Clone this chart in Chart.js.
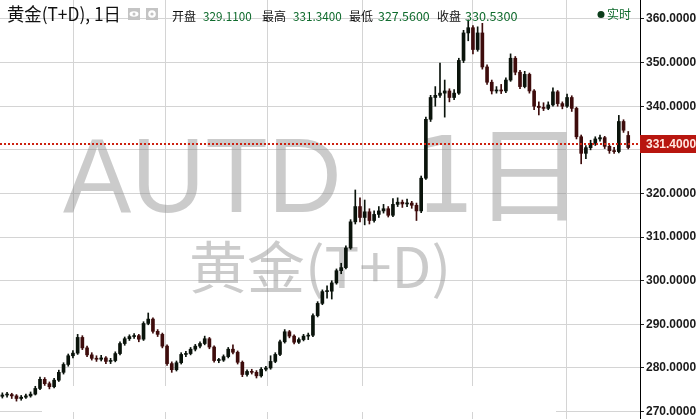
<!DOCTYPE html>
<html><head><meta charset="utf-8">
<script src="https://cdn.jsdelivr.net/npm/chart.js@4.4.0/dist/chart.umd.min.js"></script>
<style>html,body{margin:0;padding:0;background:#fff;overflow:hidden}#wrap{width:696px;height:419px}</style>
</head><body><div id="wrap"><canvas id="c" width="696" height="419"></canvas></div>
<script>
const opens = [273.5,273.8,273.9,273.6,273.0,273.3,273.6,274.0,275.3,277.4,276.4,275.7,277.2,279.0,280.8,282.8,283.4,287.0,284.6,283.0,
282.2,282.0,282.3,281.5,281.7,283.3,285.6,286.7,287.2,287.4,286.6,290.2,291.2,288.4,287.7,285.0,281.0,279.6,281.2,283.1,
283.3,284.3,285.0,285.6,286.7,284.8,281.7,281.8,282.6,284.3,283.6,281.3,278.5,279.2,279.0,278.2,279.7,280.0,281.5,283.1,
286.0,288.3,287.3,285.9,286.5,287.3,287.5,292.0,294.8,297.5,297.6,299.5,302.3,303.0,307.5,313.5,317.0,314.5,315.8,313.8,
315.2,316.0,316.5,315.0,317.5,318.0,317.6,317.8,317.3,316.0,323.5,337.0,342.0,342.5,343.0,343.5,342.0,343.0,350.5,356.8,
358.0,353.0,356.8,349.0,345.5,343.5,343.7,343.5,346.0,351.0,347.8,344.5,347.3,343.5,340.0,339.7,339.5,340.3,343.3,340.6,
340.0,342.0,339.5,333.0,329.2,330.5,331.5,332.5,332.8,330.8,329.8,329.6,336.5,333.3];
const highs = [274.3,274.4,274.2,273.9,273.7,274.0,274.5,275.8,277.9,277.8,276.8,277.6,279.5,281.2,283.2,284.0,287.7,287.4,285.0,283.5,
282.8,282.9,282.6,282.2,283.7,286.0,287.1,287.6,287.9,287.7,290.6,292.6,291.5,288.8,288.0,285.3,281.4,281.6,283.5,283.8,
284.7,285.4,286.0,287.3,287.0,285.1,282.2,283.0,284.7,285.3,283.9,281.6,279.6,279.7,279.4,280.1,280.4,282.8,283.5,286.4,
288.8,288.6,287.6,286.9,287.7,288.0,292.4,295.2,297.9,298.8,300.0,302.7,304.0,308.0,314.0,320.8,319.0,318.5,316.5,316.0,
317.0,317.5,317.0,318.8,319.0,318.5,318.7,318.2,317.8,324.0,337.5,342.5,344.5,349.9,346.0,344.0,343.8,351.0,357.4,359.8,
358.5,358.2,359.0,349.5,346.0,344.5,345.0,346.5,352.0,351.4,348.2,348.0,347.6,343.8,341.0,340.8,341.0,344.2,343.6,341.0,
342.8,342.4,339.8,333.4,331.0,332.2,333.0,333.4,333.1,331.2,330.6,337.9,336.9,334.2];
const lows = [273.1,273.3,273.0,272.4,272.6,273.0,273.3,273.8,275.0,276.0,275.2,275.4,276.9,278.6,280.4,282.3,283.1,284.2,282.6,281.8,
281.5,281.6,281.0,281.0,281.4,283.0,285.2,286.3,286.8,286.0,286.3,289.9,288.0,287.2,284.6,280.6,279.0,279.3,280.9,282.6,
283.0,283.9,284.6,285.3,284.4,281.3,281.2,281.5,282.3,283.2,280.9,278.0,278.1,278.6,277.7,277.9,279.3,279.7,281.2,282.8,
285.7,286.9,285.5,285.6,286.2,286.5,287.2,291.7,294.5,296.0,295.8,299.2,301.6,302.7,307.2,313.0,313.5,312.8,313.0,313.4,
314.5,315.5,314.6,314.7,317.0,316.8,317.0,316.6,313.8,315.6,323.2,336.5,340.0,342.0,337.5,341.0,341.5,342.7,350.0,355.0,
352.0,352.6,348.5,345.0,342.8,343.0,342.9,343.1,345.7,347.2,344.0,344.2,343.0,339.2,338.0,339.0,339.2,340.0,340.0,339.4,
339.7,338.8,332.5,326.8,328.0,330.0,331.0,332.0,330.3,329.2,329.2,329.3,334.0,330.2];
const closes = [273.8,273.9,273.6,273.0,273.3,273.6,274.0,275.3,277.4,276.4,275.7,277.2,279.0,280.8,282.8,283.4,287.0,284.6,283.0,282.2,
282.0,282.3,281.5,281.7,283.3,285.6,286.7,287.2,287.4,286.6,290.2,291.2,288.4,287.7,285.0,281.0,279.6,281.2,283.1,283.3,
284.3,285.0,285.6,286.7,284.8,281.7,281.8,282.6,284.3,283.6,281.3,278.5,279.2,279.0,278.2,279.7,280.0,281.5,283.1,286.0,
288.3,287.3,285.9,286.5,287.3,287.5,292.0,294.8,297.5,297.6,299.5,302.3,303.0,307.5,313.5,317.0,314.5,315.8,313.8,315.2,
316.0,316.5,315.0,317.5,318.0,317.6,317.8,317.3,316.0,323.5,337.0,342.0,342.5,343.0,343.5,342.0,343.0,350.5,356.8,358.0,
353.0,356.8,349.0,345.5,343.5,343.7,343.5,346.0,351.0,347.8,344.5,347.3,343.5,340.0,339.7,339.5,340.3,343.3,340.6,340.0,
342.0,339.5,333.0,329.2,330.5,331.5,332.5,332.8,330.8,329.8,329.6,336.5,334.5,330.53];
const yTicks = [270,280,290,300,310,320,330,340,350,360];
const monthLines = [15, 34.6, 56.2, 76.4, 99.8, 119.8];
const lastPrice = 331.4;
const infoLabels = ['开盘','最高','最低','收盘'];
const infoValues = ['329.1100','331.3400','327.5600','330.5300'];
const titleText = '黄金(T+D), 1日';
const liveText = '实时';

const UP = '#0a130b', DOWN = '#3e0c0c';
const n = opens.length;
const labels = Array.from({length: n + 2}, (_, i) => i);
const colors = closes.map((c, i) => c >= opens[i] ? UP : DOWN);
const wickData = lows.map((l, i) => [l, highs[i]]);
const bodyData = opens.map((o, i) => [Math.min(o, closes[i]), Math.max(o, closes[i])]);

function fitText(ctx, text, x0, x1, base, font, color) {
  ctx.save();
  ctx.font = font; ctx.fillStyle = color; ctx.textAlign = 'left'; ctx.textBaseline = 'alphabetic';
  const m = ctx.measureText(text);
  const w = m.actualBoundingBoxLeft + m.actualBoundingBoxRight;
  const sx = (x1 - x0) / w;
  ctx.translate(x0, base); ctx.scale(sx, 1);
  ctx.fillText(text, m.actualBoundingBoxLeft, 0);
  ctx.restore();
}

const decor = {
  id: 'decor',
  beforeDraw(chart) {
    const ctx = chart.ctx;
    ctx.save(); ctx.fillStyle = '#fff'; ctx.fillRect(0, 0, chart.width, chart.height); ctx.restore();
  },
  beforeDatasetsDraw(chart) {
    const ctx = chart.ctx, a = chart.chartArea, xs = chart.scales.x;
    ctx.save();
    ctx.strokeStyle = '#d4d4d4'; ctx.lineWidth = 1;
    monthLines.forEach(v => {
      const x = Math.round(xs.getPixelForValue(v)) + 0.5;
      ctx.beginPath(); ctx.moveTo(x, a.top); ctx.lineTo(x, a.bottom); ctx.stroke();
    });
    ctx.fillStyle = '#fff';
    ctx.fillRect(42, 386, 514, 26);
    ctx.restore();
    const wm = 'rgba(140,140,140,0.45)';
    fitText(ctx, 'AUTD', 63, 337, 212, '105px "Liberation Sans"', wm);
    fitText(ctx, '1', 425, 467, 212, '105px "DejaVu Sans"', wm);
    fitText(ctx, '日', 492, 567, 213, '105px "Noto Sans CJK SC"', wm);
    fitText(ctx, '黄金(T+D)', 192, 446, 288, '56px "Noto Sans CJK SC"', wm);
  },
  afterDraw(chart) {
    const ctx = chart.ctx, a = chart.chartArea, ys = chart.scales.y;
    const y = Math.round(ys.getPixelForValue(lastPrice));
    ctx.save();
    ctx.strokeStyle = '#cc2211'; ctx.lineWidth = 2; ctx.setLineDash([2, 2]);
    ctx.beginPath(); ctx.moveTo(a.left, y); ctx.lineTo(a.right, y); ctx.stroke();
    ctx.setLineDash([]);
    ctx.fillStyle = '#b8160f';
    ctx.fillRect(a.right, y - 9, chart.width - a.right, 18);
    ctx.fillStyle = '#ffe8e0';
    ctx.font = 'bold 12px "Liberation Sans"'; ctx.textBaseline = 'middle'; ctx.textAlign = 'left';
    ctx.fillText(lastPrice.toFixed(4), a.right + 6, y + 1);
    ctx.restore();
    // header
    fitText(ctx, titleText, 7, 118, 21, '18px "Noto Sans CJK SC"', '#111');
    ctx.save();
    [[128], [146]].forEach(([x]) => {
      ctx.fillStyle = '#c4c4c4'; ctx.fillRect(x, 8, 12, 12);
    });
    ctx.fillStyle = '#fff';
    ctx.beginPath(); ctx.ellipse(134, 14, 4.5, 2.8, 0, 0, Math.PI * 2); ctx.fill();
    ctx.fillStyle = '#c4c4c4'; ctx.beginPath(); ctx.arc(134, 14, 1.5, 0, Math.PI * 2); ctx.fill();
    ctx.fillStyle = '#fff'; ctx.beginPath(); ctx.arc(152, 14, 3.8, 0, Math.PI * 2); ctx.fill();
    ctx.fillStyle = '#c4c4c4'; ctx.beginPath(); ctx.arc(152, 14, 1.6, 0, Math.PI * 2); ctx.fill();
    ctx.restore();
    const lx = [172, 262, 349, 437];
    const vx = [[203, 252], [293, 342], [378, 430], [465, 518]];
    infoLabels.forEach((t, i) => {
      fitText(ctx, t, lx[i], lx[i] + 24, 21, '12px "Noto Sans CJK SC"', '#111');
      fitText(ctx, infoValues[i], vx[i][0], vx[i][1], 21, '12px "Noto Sans CJK SC"', '#0e6a2c');
    });
    ctx.save();
    ctx.fillStyle = '#0b3d1a'; ctx.beginPath(); ctx.arc(601, 14.5, 3.5, 0, Math.PI * 2); ctx.fill();
    ctx.restore();
    fitText(ctx, liveText, 607, 631, 19, '12px "Noto Sans CJK SC"', '#0e6a2c');
  }
};

new Chart(document.getElementById('c'), {
  type: 'bar',
  data: {
    labels,
    datasets: [
      { data: wickData, backgroundColor: colors, barThickness: 1, grouped: false, order: 2 },
      { data: bodyData, backgroundColor: colors, barThickness: 3, minBarLength: 1, grouped: false, order: 1 }
    ]
  },
  options: {
    responsive: false, animation: false, events: [],
    layout: { padding: 0 },
    plugins: { legend: { display: false }, tooltip: { enabled: false } },
    scales: {
      x: { display: false, offset: true },
      y: {
        position: 'right', min: 268.3, max: 364.35,
        afterBuildTicks: s => { s.ticks = yTicks.map(v => ({ value: v })); },
        afterFit: s => { s.width = 56; s.paddingTop = 0; s.paddingBottom = 0; },
        ticks: { callback: v => Number(v).toFixed(4), font: { family: 'Liberation Sans', size: 12, weight: 'bold' }, color: '#1a1a1a', padding: 2 },
        grid: { color: '#d4d4d4', tickLength: 4, tickColor: '#222' },
        border: { color: '#000', width: 1 }
      }
    }
  },
  plugins: [decor]
});
</script></body></html>
